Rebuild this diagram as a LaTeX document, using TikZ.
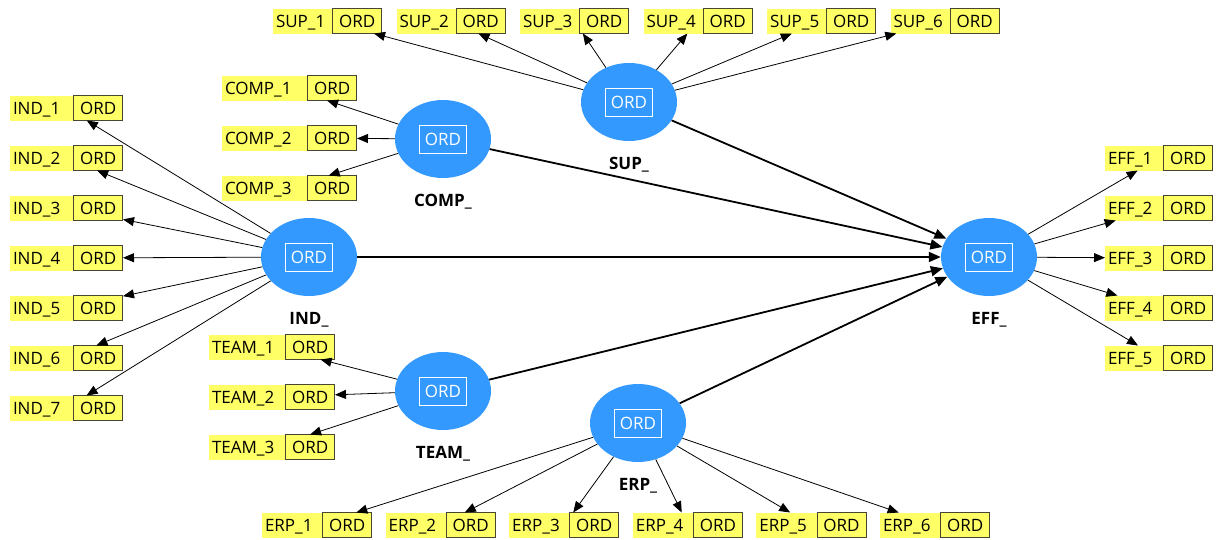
\documentclass[tikz,border=0pt]{standalone}
\usepackage{fontspec}
\setmainfont{Open Sans}
\usetikzlibrary{positioning,arrows.meta,shapes.geometric}
\definecolor{lvblue}{RGB}{51,153,255}
\definecolor{mvyellow}{RGB}{255,255,102}
\definecolor{ordline}{RGB}{70,70,50}
\tikzset{
  latent/.style={ellipse, fill=lvblue, minimum width=96pt, minimum height=78pt, inner sep=0pt, label={[innerord]center:ORD}},
  innerord/.style={draw=white, text=white, minimum width=47pt, minimum height=28pt, inner sep=0pt, line width=0.8pt},
  latname/.style={font=\fontsize{17}{19}\selectfont\bfseries, inner sep=0pt},
  indic/.style={fill=mvyellow, text width=#1, align=left, inner xsep=3pt, inner ysep=0pt, text height=13pt, text depth=1pt, minimum height=25pt, outer sep=0pt, label={[ordbox]east:ORD}},
  ordbox/.style={draw=ordline, anchor=east, minimum width=49pt, minimum height=25pt, inner sep=0pt, text height=13pt, text depth=1pt, line width=0.8pt},
  loadarrow/.style={-{Triangle[length=11pt,width=9pt]}, line width=0.8pt},
  patharrow/.style={-{Triangle[length=12pt,width=10pt]}, line width=1.8pt}
}

\begin{document}
\begin{tikzpicture}[x=1pt, y=-1pt, font=\fontsize{17}{19}\selectfont]
  \useasboundingbox (0,0) rectangle (1218,539);

  % latent variables
  \node[latent] (sup) at (629,102) {};
  \node[latent] (comp) at (443,139) {};
  \node[latent] (ind) at (309,257) {};
  \node[latent] (team) at (443,391) {};
  \node[latent] (erp) at (638,423) {};
  \node[latent] (eff) at (989,257) {};

  \node[latname, below=16pt of sup] (supname) {SUP\_};
  \node[latname, below=16pt of comp] (compname) {COMP\_};
  \node[latname, below=16pt of ind] (indname) {IND\_};
  \node[latname, below=16pt of team] (teamname) {TEAM\_};
  \node[latname, below=16pt of erp] (erpname) {ERP\_};
  \node[latname, below=16pt of eff] (effname) {EFF\_};

  % indicators
  \foreach \k in {1,...,7}
    \node[indic=107pt] (ind\k) at (66.5,58+50*\k) {IND\_\k};
  \foreach \k in {1,...,3}
    \node[indic=129pt] (comp\k) at (289.5,38+50*\k) {COMP\_\k};
  \foreach \k in {1,...,3}
    \node[indic=120pt] (team\k) at (272,297+50*\k) {TEAM\_\k};
  \foreach \k in {1,...,6}
    \node[indic=103pt] (sup\k) at (204+123.5*\k,21) {SUP\_\k};
  \foreach \k in {1,...,6}
    \node[indic=104pt] (erp\k) at (193.4+123.6*\k,525) {ERP\_\k};
  \foreach \k in {1,...,5}
    \node[indic=102pt] (eff\k) at (1159,108+50*\k) {EFF\_\k};

  % loadings
  \foreach \k in {1,...,7} \draw[loadarrow] (ind) -- (ind\k);
  \foreach \k in {1,...,3} \draw[loadarrow] (comp) -- (comp\k);
  \foreach \k in {1,...,3} \draw[loadarrow] (team) -- (team\k);
  \foreach \k in {1,...,6} \draw[loadarrow] (sup) -- (sup\k);
  \foreach \k in {1,...,6} \draw[loadarrow] (erp) -- (erp\k);
  \foreach \k in {1,...,5} \draw[loadarrow] (eff) -- (eff\k);

  % paths
  \foreach \src in {sup,comp,ind,team,erp}
    \draw[patharrow] (\src) -- (eff);
\end{tikzpicture}
\end{document}
